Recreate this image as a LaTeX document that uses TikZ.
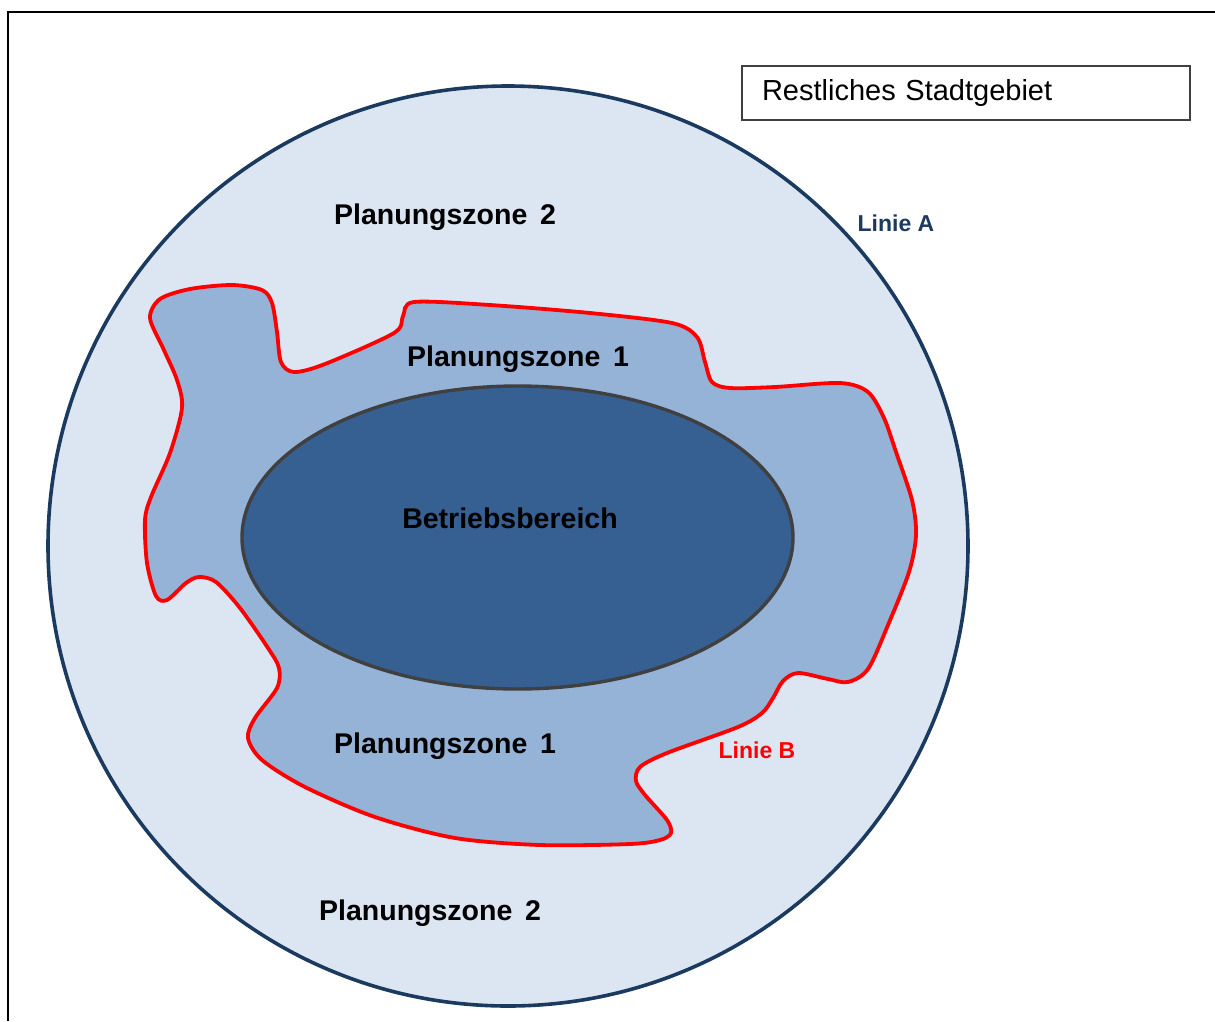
\documentclass[tikz,border=0pt]{standalone}
\usepackage{fontspec}
\setmainfont{Liberation Sans}
\definecolor{zonetwo}{HTML}{DCE6F2}
\definecolor{zoneone}{HTML}{95B3D7}
\definecolor{betrieb}{HTML}{366092}
\definecolor{navy}{HTML}{1B3A5F}
\definecolor{rim}{HTML}{404040}
\tikzset{
  zonelabel/.style={font=\fontsize{28.5}{30}\selectfont\bfseries},
  linelabel/.style={font=\fontsize{23}{25}\selectfont\bfseries},
}
\begin{document}
\begin{tikzpicture}[x=1pt,y=-1pt]
  \useasboundingbox (0,0) rectangle (1215,1021);

  % frame (open to the right and bottom)
  \draw[line width=2.6pt] (8,1021) -- (8,12) -- (1215,12);

  % Planungszone 2 (Linie A)
  \draw[line width=3.6pt,draw=navy,fill=zonetwo] (508,546) circle (460);

  % Planungszone 1 (Linie B)
  \draw[line width=3.8pt,draw=red,fill=zoneone] plot[smooth cycle,tension=0.5] coordinates {
    (150,318) (160,299) (190,289) (232,285) (262,290) (272,303)
    (277,332) (281,362) (294,372) (325,364) (394,333) (403,316)
    (414,302) (490,305) (590,313) (672,323) (697,337) (705,362)
    (712,382) (730,388) (775,387) (840,383) (868,392) (884,418)
    (896,452) (912,500) (916,535) (909,572) (888,625) (868,669)
    (848,682) (828,679) (798,673) (783,681) (773,698) (762,713)
    (738,727) (667,753) (640,767) (636,781) (645,795) (667,820)
    (671,833) (660,840) (630,844) (540,845) (455,838) (375,817)
    (305,787) (262,760) (248,738) (255,718) (277,688) (279,668)
    (268,648) (240,608) (216,582) (199,577) (186,583) (167,600)
    (156,596) (147,563) (145,520) (151,497) (170,453) (182,408)
    (177,380) (163,348)
  };

  % Betriebsbereich
  \draw[line width=3.4pt,draw=rim,fill=betrieb] (517.5,537.5)
    ellipse [x radius=275.5, y radius=151.5];

  % labels
  \node[zonelabel] (pz2top) at (445,217) {Planungszone\, 2};
  \node[zonelabel] (pz1top) at (518,359) {Planungszone\, 1};
  \node[zonelabel] (betr)   at (510,518) {Betriebsbereich};
  \node[zonelabel] (pz1bot) at (445,746) {Planungszone\, 1};
  \node[zonelabel] (pz2bot) at (430,913) {Planungszone\, 2};
  \node[linelabel,text=navy] (linA) at (896,223) {Linie A};
  \node[linelabel,text=red]  (linB) at (757,750) {Linie B};

  % legend box
  \node[draw=rim,line width=1.8pt,fill=white,minimum height=54pt,
        text width=408pt,inner xsep=20pt,align=left,
        font=\fontsize{29}{31}\selectfont] (rest) at (966,93)
    {Restliches Stadtgebiet};
\end{tikzpicture}
\end{document}
